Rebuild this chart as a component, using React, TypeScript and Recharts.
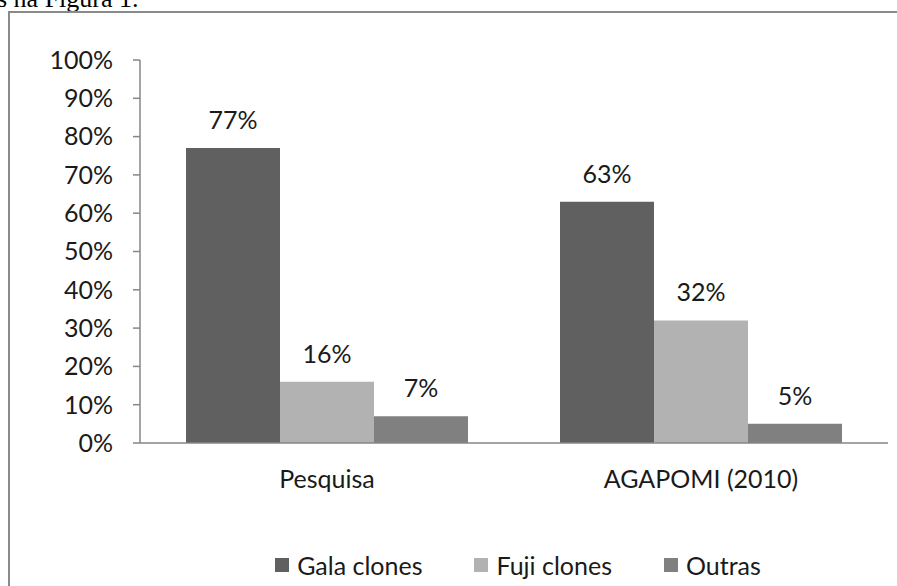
import { Bar, BarChart, LabelList, Legend, XAxis, YAxis } from "recharts";

const categories = ["Pesquisa", "AGAPOMI (2010)"];
const galaClones = [77, 63];
const fujiClones = [16, 32];
const outras = [7, 5];
const yTicks = [0, 10, 20, 30, 40, 50, 60, 70, 80, 90, 100];
const edgeTicks = [0, 1, 2];

const series = [
  { key: "gala", name: "Gala clones", color: "#606060" },
  { key: "fuji", name: "Fuji clones", color: "#b2b2b2" },
  { key: "outras", name: "Outras", color: "#808080" },
];

const data = categories.map((name, i) => ({
  name,
  gala: galaClones[i],
  fuji: fujiClones[i],
  outras: outras[i],
}));

const FONT = "Lato, 'Open Sans', sans-serif";
const AXIS = "#868686";
const TEXT = "#1a1a1a";

function LegendBox() {
  return (
    <div
      style={{
        display: "flex",
        justifyContent: "center",
        alignItems: "center",
        gap: 52,
        height: 30,
        paddingLeft: 8,
        fontFamily: FONT,
        fontSize: 25,
        color: TEXT,
      }}
    >
      {series.map((s) => (
        <div key={s.key} style={{ display: "flex", alignItems: "center" }}>
          <span
            style={{
              width: 14,
              height: 14,
              background: s.color,
              display: "inline-block",
              marginRight: 8,
            }}
          />
          <span>{s.name}</span>
        </div>
      ))}
    </div>
  );
}

export default function App() {
  return (
    <div
      style={{
        position: "absolute",
        left: 0,
        top: 0,
        width: 897,
        height: 586,
        overflow: "hidden",
        background: "#fff",
      }}
    >
      <div
        style={{
          position: "absolute",
          left: -3,
          top: -14,
          fontFamily: "'Liberation Serif', 'Times New Roman', serif",
          fontSize: 26,
          lineHeight: "26px",
          color: "#000",
          whiteSpace: "nowrap",
        }}
      >
        s na Figura 1.
      </div>
      <div
        style={{
          position: "absolute",
          left: 8,
          top: 11,
          width: 1000,
          height: 700,
          border: "2px solid #8a8a8a",
        }}
      />
      <div style={{ position: "absolute", left: 0, top: 0 }}>
        <BarChart
          width={897}
          height={586}
          data={data}
          margin={{ top: 60, right: 9, left: 20, bottom: 6 }}
          barCategoryGap="12.3%"
          barGap={0}
        >
          {/* boundary ticks between categories, like Excel */}
          <XAxis
            xAxisId="a_edges"
            type="number"
            domain={[0, 2]}
            ticks={edgeTicks}
            tick={false}
            tickSize={8}
            height={9}
            stroke={AXIS}
            axisLine={{ strokeWidth: 1.5 }}
            tickLine={{ strokeWidth: 1.5 }}
          />
          <XAxis
            xAxisId="b_cat"
            dataKey="name"
            axisLine={false}
            tickLine={false}
            tickSize={0}
            tickMargin={18}
            height={98}
            tick={{ fill: TEXT, fontFamily: FONT, fontSize: 25 }}
          />
          <YAxis
            domain={[0, 100]}
            ticks={yTicks}
            width={120}
            tickSize={7}
            tickMargin={20}
            tickFormatter={(v) => `${v}%`}
            stroke={AXIS}
            axisLine={{ strokeWidth: 1.5 }}
            tickLine={{ strokeWidth: 1.5 }}
            tick={{ fill: TEXT, fontFamily: FONT, fontSize: 25 }}
          />
          <Legend
            verticalAlign="bottom"
            content={() => <LegendBox />}
            wrapperStyle={{ left: 140, width: 748, height: 30 }}
          />
          {series.map((s) => (
            <Bar
              key={s.key}
              xAxisId="b_cat"
              dataKey={s.key}
              name={s.name}
              fill={s.color}
              isAnimationActive={false}
            >
              <LabelList
                dataKey={s.key}
                position="top"
                offset={19}
                formatter={(v: number) => `${v}%`}
                style={{ fill: TEXT, fontFamily: FONT, fontSize: 25 }}
              />
            </Bar>
          ))}
        </BarChart>
      </div>
    </div>
  );
}
